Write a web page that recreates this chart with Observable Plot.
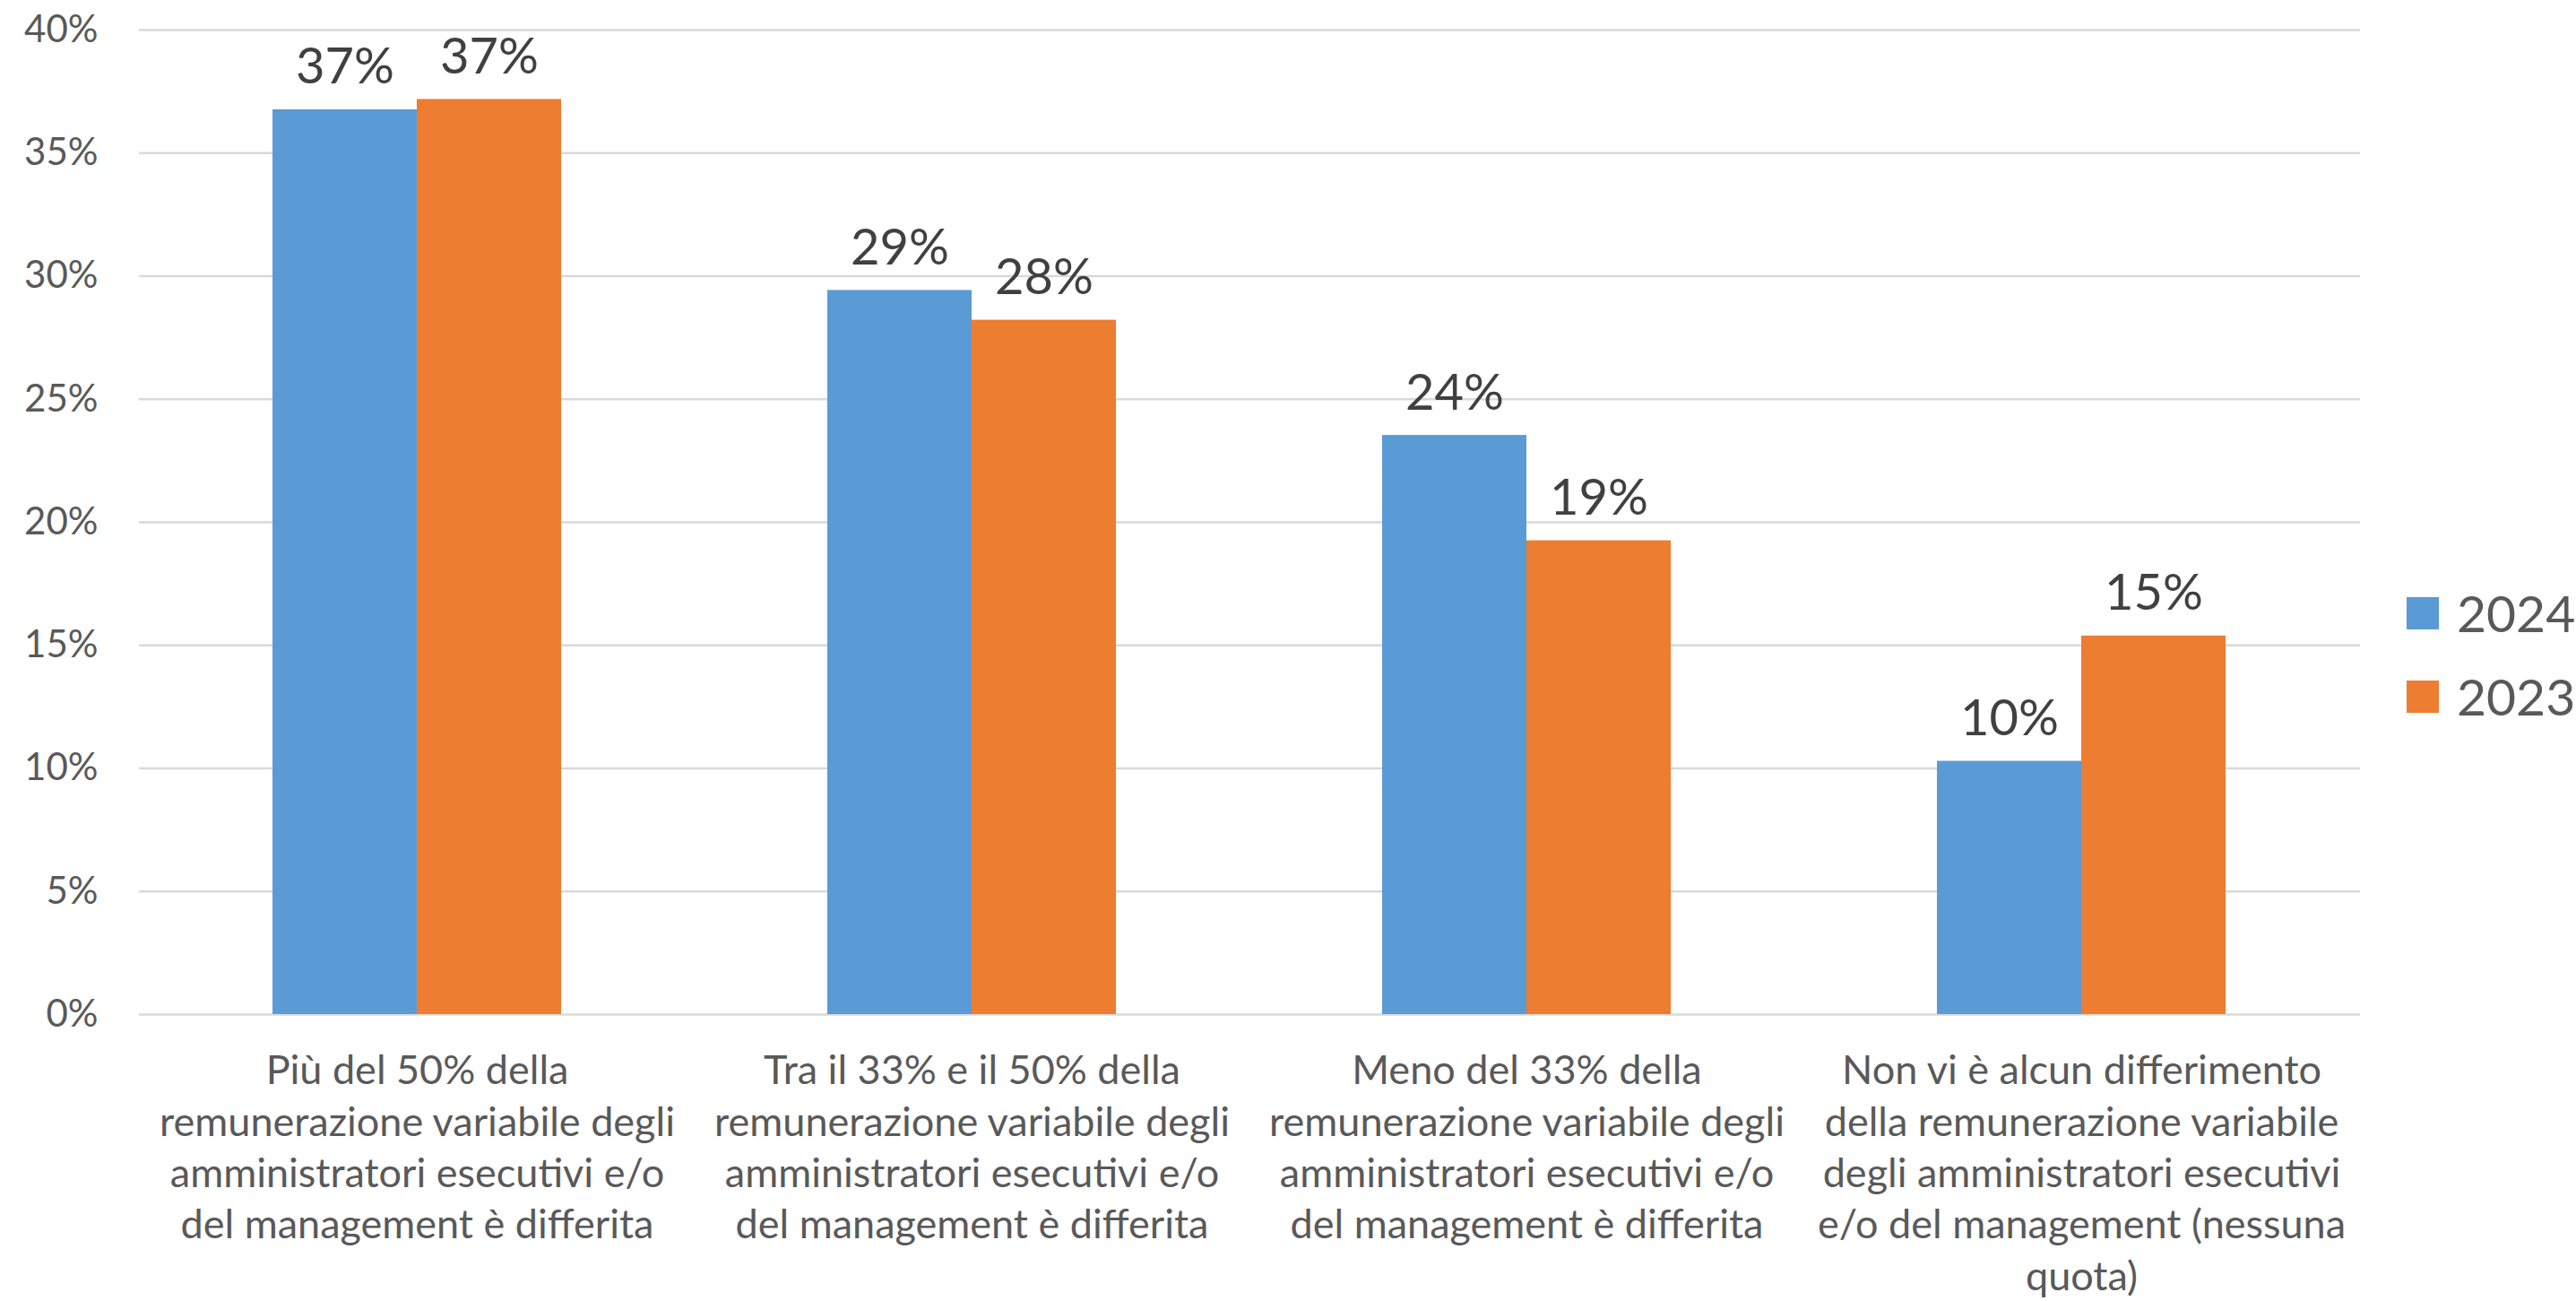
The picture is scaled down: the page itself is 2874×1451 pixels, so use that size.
<!DOCTYPE html>
<html>
<head>
<meta charset="utf-8">
<script src="https://cdn.jsdelivr.net/npm/d3@7"></script>
<script src="https://cdn.jsdelivr.net/npm/@observablehq/plot@0.6"></script>
<style>
  html, body { margin: 0; padding: 0; background: #fff; }
  #wrap { position: relative; width: 2874px; height: 1451px; font-family: Lato, "Open Sans", sans-serif; }
  #grid, #chart { position: absolute; left: 0; top: 0; }
  #legend { position: absolute; left: 2685px; top: 637px; }
  .item { display: flex; align-items: center; height: 93px; }
  .sw { width: 36px; height: 36px; margin-right: 20px; }
  .lab { font-size: 57px; color: #595959; line-height: 1; }
</style>
</head>
<body>
<div id="wrap"><div id="grid"></div><div id="chart"></div><div id="legend"></div></div>
<script>
const categories = [
  "Più del 50% della\nremunerazione variabile degli\namministratori esecutivi e/o\ndel management è differita",
  "Tra il 33% e il 50% della\nremunerazione variabile degli\namministratori esecutivi e/o\ndel management è differita",
  "Meno del 33% della\nremunerazione variabile degli\namministratori esecutivi e/o\ndel management è differita",
  "Non vi è alcun differimento\ndella remunerazione variabile\ndegli amministratori esecutivi\ne/o del management (nessuna\nquota)"
];
const series = ["2024", "2023"];
const values2024 = [36.76, 29.42, 23.53, 10.29];
const values2023 = [37.18, 28.21, 19.25, 15.38];
const colors = ["#5B9BD5", "#ED7D31"];
const yTicks = [0, 5, 10, 15, 20, 25, 30, 35, 40];

const data = [];
categories.forEach((c, i) => {
  data.push({category: c, year: series[0], value: values2024[i]});
  data.push({category: c, year: series[1], value: values2023[i]});
});

const frame = {
  width: 2874,
  height: 1451,
  marginLeft: 155,
  marginRight: 241,
  marginTop: 33,
  marginBottom: 320
};
const font = "Lato, 'Open Sans', sans-serif";

// Background layer: full-width gridlines and the y axis
const grid = Plot.plot({
  ...frame,
  style: {background: "#fff", fontFamily: font},
  x: {axis: null},
  y: {domain: [0, 40], ticks: yTicks, label: null},
  marks: [
    Plot.gridY(yTicks, {stroke: "#D9D9D9", strokeOpacity: 1, strokeWidth: 2.5}),
    Plot.axisY(yTicks, {tickSize: 0, tickPadding: 46, tickFormat: d => d + "%", fontSize: 42, fill: "#595959", label: null})
  ]
});
document.getElementById("grid").appendChild(grid);

// Foreground layer: grouped bars, labels, category axis
const chart = Plot.plot({
  ...frame,
  style: {background: "transparent", fontFamily: font},
  fx: {domain: categories, paddingInner: 0.479, paddingOuter: 0.2395, label: null},
  x: {domain: series, padding: 0, axis: null, label: null},
  y: {domain: [0, 40], axis: null, label: null},
  color: {domain: series, range: colors},
  marks: [
    Plot.axisFx({anchor: "bottom", tickSize: 0, tickPadding: 37, fontSize: 45, lineHeight: 1.275, fill: "#595959", label: null}),
    Plot.barY(data, {fx: "category", x: "year", y: "value", fill: "year"}),
    Plot.text(data, {fx: "category", x: "year", y: "value", text: d => Math.round(d.value) + "%", dy: -29, lineAnchor: "bottom", fontSize: 56, fill: "#404040"})
  ]
});
document.getElementById("chart").appendChild(chart);

const legend = document.getElementById("legend");
series.forEach((s, i) => {
  const item = document.createElement("div");
  item.className = "item";
  item.innerHTML = `<div class="sw" style="background:${colors[i]}"></div><div class="lab">${s}</div>`;
  legend.appendChild(item);
});
</script>
</body>
</html>
